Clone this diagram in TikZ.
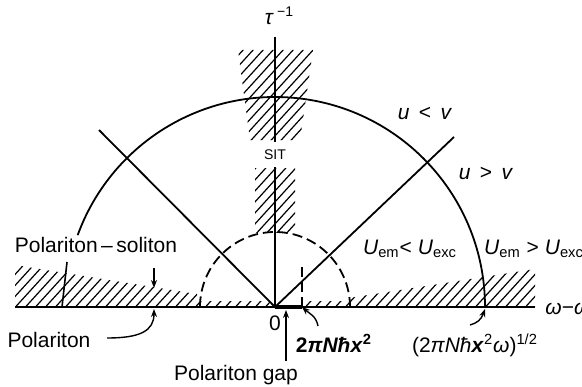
\documentclass[tikz,border=0pt]{standalone}
\usepackage{fontspec}
\setmainfont{Liberation Sans}
\usetikzlibrary{arrows.meta}
\newcommand\myhatch[1]{\foreach \i in {-420,-410,...,600} \draw[hatch] (\i+#1,40) -- ++(300,330);}
\begin{document}
\begin{tikzpicture}[x=0.5pt,y=0.5pt,
  ax/.style={line width=1.1pt},
  thinl/.style={line width=0.9pt},
  hatch/.style={line width=0.6pt},
  lbl/.style={inner sep=0pt,font=\fontsize{10.5}{12}\selectfont},
  ptr/.style={line width=0.7pt,-{Stealth[length=4pt,width=3pt]}},
  dsh/.style={line width=0.9pt,dash pattern=on 5pt off 2.5pt}]
\useasboundingbox (0,0) rectangle (582,386);
\coordinate (O) at (275,79);
\coordinate (xl) at (15,79);
\coordinate (xr) at (535,79);
\coordinate (yt) at (275,349);
\coordinate (yb1) at (275,244);
\coordinate (yb2) at (275,219);
\coordinate (dl) at (99,256);
\coordinate (dr) at (454,249);
\coordinate (gapend) at (302,79);
\coordinate (gaptop) at (302,123);
% hatching
\begin{scope}
\clip (15,79) -- (15,121) -- (197,92) -- (197,85) -- (270,85) -- (270,79) -- cycle;
\myhatch{0}
\end{scope}
\begin{scope}
\clip (302,79) -- (302,85) -- (349,85) -- (349,88) -- (535,117) -- (535,79) -- cycle;
\myhatch{0}
\end{scope}
\begin{scope}
\clip (238,336) -- (313,336) -- (300,246) -- (250,246) -- cycle;
\myhatch{4}
\end{scope}
\begin{scope}
\clip (255,218) rectangle (295,154);
\myhatch{4}
\end{scope}
% axes and curves
\draw[ax] (xl) -- (xr);
\draw[ax] (yt) -- (yb1);
\draw[ax] (yb2) -- (O);
\draw[thinl] (O) ++(210,0) arc[start angle=0,end angle=160,radius=210];
\draw[dsh] (O) ++(75,0) arc[start angle=0,end angle=180,radius=75];
\draw[thinl] (dl) -- (O) -- (dr);
\draw[line width=2pt] (O) -- (gapend);
\draw[dsh] (gapend) -- (gaptop);
% labels
\node[lbl] (tau) at (279,370) {\textit{τ}\,\raisebox{0.7ex}{\fontsize{7}{8}\selectfont −1}};
\node[lbl,font=\fontsize{7}{8}\selectfont] (sit) at (275,231) {SIT};
\node[lbl] (uv1) at (425,273) {\textit{u} \,<\, \textit{v}};
\node[lbl] (uv2) at (486,213) {\textit{u} \,>\, \textit{v}};
\node[lbl] (ue1) at (410,137) {\textit{U}\textsubscript{em}< \textit{U}\textsubscript{exc}};
\node[lbl] (ue2) at (534,137) {\textit{U}\textsubscript{em} > \textit{U}\textsubscript{exc}};
\node[lbl] (ps) at (96,141) {Polariton\,–\,soliton};
\node[lbl] (pol) at (49,46) {Polariton};
\node[lbl] (gap) at (236,11) {Polariton gap};
\node[lbl] (zero) at (275,63) {0};
\node[lbl] (g1) at (334,43) {\bfseries 2\textit{πNħx}\textsuperscript{2}};
\node[lbl] (g2) at (475,41) {(2\textit{πNħ}\textbf{\textit{x}}\textsuperscript{2}\textit{ω})\textsuperscript{1/2}};
\node[lbl,anchor=west] (w) at (545,75) {\textit{ω}−\textit{ω}\textsubscript{0}};
% pointers
\coordinate (gapA) at (286,76);
\draw[ptr] ([yshift=2pt]gap.north -| gapA) -- (gapA);
\coordinate (g1s) at (318,60);
\draw[ptr] (g1s) .. controls (316,70) and (310,72) .. (gapend);
\coordinate (g2s) at (470,61);
\coordinate (g2e) at (485,77);
\draw[ptr] (g2s) .. controls (477,63) and (481,66) .. (g2e);
\coordinate (pols) at (107,48);
\coordinate (pole) at (154,77);
\draw[ptr] (pols) .. controls (140,48) and (154,55) .. (pole);
\coordinate (ps1) at (67,124);
\coordinate (ps2) at (62,79);
\draw[line width=0.8pt] (ps1) -- (ps2);
\coordinate (psa) at (154,118);
\coordinate (psb) at (154,98);
\draw[ptr] (psa) -- (psb);
\end{tikzpicture}
\end{document}
